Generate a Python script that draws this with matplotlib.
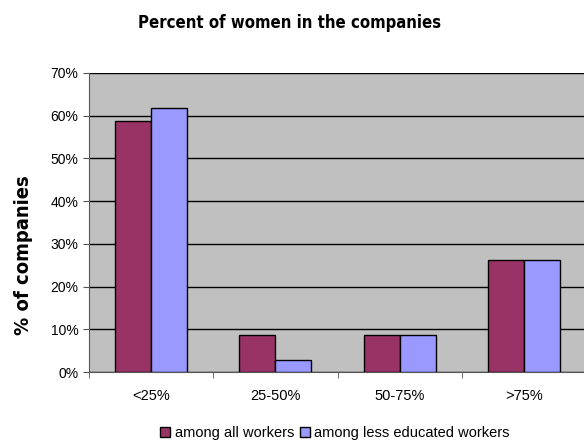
import matplotlib.pyplot as plt
import numpy as np
from matplotlib.ticker import PercentFormatter

categories = ["<25%", "25-50%", "50-75%", ">75%"]
all_workers = [58.8, 8.7, 8.7, 26.2]
less_educated = [61.8, 2.9, 8.7, 26.2]

plt.rcParams['font.family'] = ['Liberation Sans', 'DejaVu Sans']
narrow = ['Liberation Sans Narrow', 'DejaVu Sans']

fig = plt.figure(figsize=(5.84, 4.42), dpi=100)
ax = fig.add_axes([89 / 584, 70 / 442, (586 - 89) / 584, (372 - 73) / 442])
ax.set_facecolor('#c0c0c0')

x = np.arange(len(categories))
w = 0.29
ax.bar(x - w / 2, all_workers, w, color='#993366', edgecolor='black', linewidth=1,
       label='among all workers', zorder=3)
ax.bar(x + w / 2, less_educated, w, color='#9999ff', edgecolor='black', linewidth=1,
       label='among less educated workers', zorder=3)

ax.set_xlim(-0.5, 3.5)
ax.set_ylim(0, 70)
ax.set_yticks(range(0, 71, 10))
ax.yaxis.set_major_formatter(PercentFormatter(decimals=0))
ax.yaxis.grid(True, color='black', linewidth=1, zorder=1)

ax.set_xticks(x)
ax.set_xticklabels(categories)
ax.set_xticks(np.arange(-0.5, 4, 1), minor=True)
ax.tick_params(axis='x', which='major', length=0, pad=12, labelsize=10.5)
ax.tick_params(axis='x', which='minor', length=4, direction='out', color='#555555')
ax.tick_params(axis='y', length=4, direction='out', labelsize=10, color='#555555')

for side in ['top', 'right']:
    ax.spines[side].set_visible(False)
for side in ['left', 'bottom']:
    ax.spines[side].set_color('#555555')

# condensed bold for the title and axis label
ax.set_ylabel('% of companies', fontsize=14.5, fontweight='bold', family=narrow,
              fontstretch='condensed')
ax.yaxis.set_label_coords(-0.112, 0.39)
fig.text(290 / 584, 1 - 23 / 442, 'Percent of women in the companies', ha='center', va='center',
         fontsize=12, fontweight='bold', family=narrow, fontstretch='condensed')

fig.legend(loc='center', bbox_to_anchor=(335 / 584, 1 - 433 / 442), ncol=2, frameon=False,
           fontsize=10.5, handlelength=0.7, handleheight=0.7, handletextpad=0.3,
           columnspacing=0.4)

fig.savefig('out.png', dpi=100)
